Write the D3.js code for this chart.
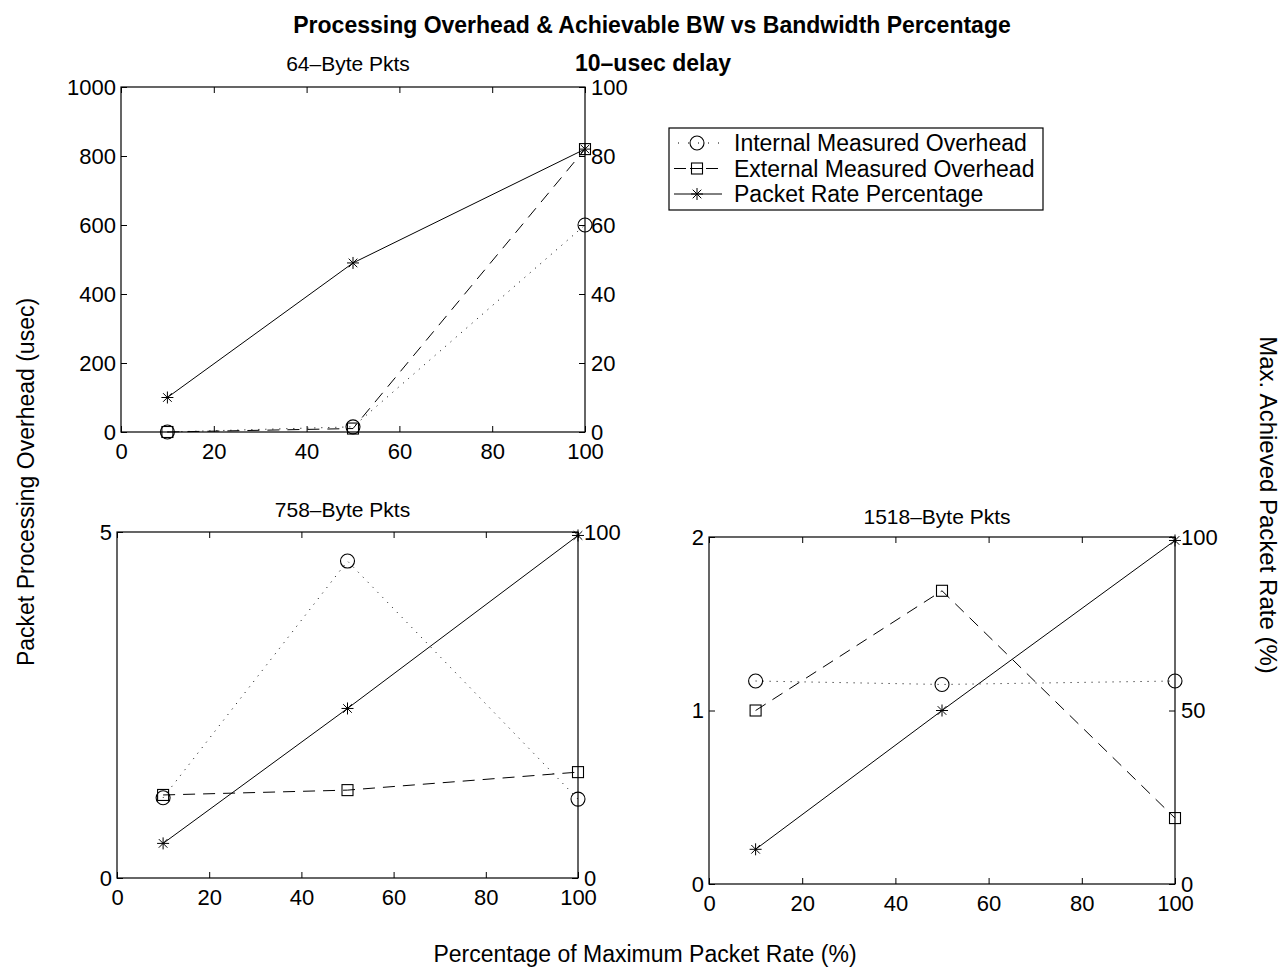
<!DOCTYPE html>
<html>
<head>
<meta charset="utf-8">
<script src="https://cdn.jsdelivr.net/npm/d3@7"></script>
<style>
  body { margin: 0; background: #fff; }
  svg { font-family: "Liberation Sans", Arial, Helvetica, sans-serif; }
  .axis text { font-size: 22px; fill: #000; }
  .axis line { stroke: #000; stroke-width: 1; }
  .axis path { display: none; }
</style>
</head>
<body>
<div id="chart"></div>
<script>
// x values shared by every panel (percentage of max packet rate)
const rates = [10, 50, 100];
const xTicks = [0, 20, 40, 60, 80, 100];

// 64-byte packets
const internal64 = [0, 15, 600];
const external64 = [0, 10, 820];
const packet64 = [10, 49, 82];
const leftTicks64 = [0, 200, 400, 600, 800, 1000];
const rightTicks64 = [0, 20, 40, 60, 80, 100];

// 758-byte packets
const internal758 = [1.16, 4.58, 1.14];
const external758 = [1.2, 1.27, 1.53];
const packet758 = [10, 49, 99];
const leftTicks758 = [0, 5];
const rightTicks758 = [0, 100];

// 1518-byte packets
const internal1518 = [1.17, 1.15, 1.17];
const external1518 = [1.0, 1.69, 0.38];
const packet1518 = [10, 50, 99];
const leftTicks1518 = [0, 1, 2];
const rightTicks1518 = [0, 50, 100];

const legendLabels = ["Internal Measured Overhead", "External Measured Overhead", "Packet Rate Percentage"];

const width = 1288, height = 971;
const fmt = d3.format("d");

const svg = d3.select("#chart")
    .append("svg")
    .attr("width", width)
    .attr("height", height);

// marker drawers
function drawCircle(g, x, y) {
    g.append("circle").attr("cx", x).attr("cy", y).attr("r", 7)
        .attr("fill", "none").attr("stroke", "#000").attr("stroke-width", 1.1);
}
function drawSquare(g, x, y) {
    g.append("rect").attr("x", x - 5.5).attr("y", y - 5.5).attr("width", 11).attr("height", 11)
        .attr("fill", "none").attr("stroke", "#000").attr("stroke-width", 1.1);
}
function drawStar(g, x, y) {
    const s = 6, d = 4.3;
    const p = `M${x-s},${y}L${x+s},${y}M${x},${y-s}L${x},${y+s}` +
              `M${x-d},${y-d}L${x+d},${y+d}M${x-d},${y+d}L${x+d},${y-d}`;
    g.append("path").attr("d", p).attr("stroke", "#000").attr("stroke-width", 1).attr("fill", "none");
}

const styles = [
    {dash: "1,6", marker: drawCircle},
    {dash: "12,8", marker: drawSquare},
    {dash: null, marker: drawStar}
];

function drawPanel(p) {
    const x = d3.scaleLinear().domain([0, 100]).range([p.left, p.right]);
    const yL = d3.scaleLinear().domain(p.leftDomain).range([p.bottom, p.top]);
    const yR = d3.scaleLinear().domain([0, 100]).range([p.bottom, p.top]);

    const g = svg.append("g");

    g.append("g").attr("class", "axis")
        .attr("transform", `translate(0,${p.bottom})`)
        .call(d3.axisBottom(x).tickValues(xTicks).tickSize(-6).tickPadding(11).tickFormat(fmt));
    g.append("g").attr("class", "axis")
        .attr("transform", `translate(0,${p.top})`)
        .call(d3.axisTop(x).tickValues(xTicks).tickSize(-6).tickFormat(""));
    g.append("g").attr("class", "axis")
        .attr("transform", `translate(${p.left},0)`)
        .call(d3.axisLeft(yL).tickValues(p.leftTicks).tickSize(-6).tickPadding(5).tickFormat(fmt));
    g.append("g").attr("class", "axis")
        .attr("transform", `translate(${p.right},0)`)
        .call(d3.axisRight(yR).tickValues(p.rightTicks).tickSize(-6).tickPadding(6).tickFormat(fmt));

    g.append("rect")
        .attr("x", p.left).attr("y", p.top)
        .attr("width", p.right - p.left).attr("height", p.bottom - p.top)
        .attr("fill", "none").attr("stroke", "#000").attr("stroke-width", 1.2);

    const series = [
        {vals: p.internal, y: yL},
        {vals: p.external, y: yL},
        {vals: p.packet, y: yR}
    ];
    series.forEach(function(s, i) {
        const pts = rates.map((r, j) => [x(r), s.y(s.vals[j])]);
        const line = d3.line();
        const path = g.append("path")
            .attr("d", line(pts))
            .attr("fill", "none")
            .attr("stroke", "#000")
            .attr("stroke-width", 1);
        if (styles[i].dash) path.attr("stroke-dasharray", styles[i].dash);
        pts.forEach(pt => styles[i].marker(g, pt[0], pt[1]));
    });

    svg.append("text")
        .attr("x", (p.left + p.right) / 2 - 5)
        .attr("y", p.top - p.titleGap)
        .attr("text-anchor", "middle")
        .attr("font-size", 21)
        .text(p.title);
}

drawPanel({
    title: "64–Byte Pkts", left: 121, right: 585, top: 87, bottom: 432, titleGap: 16,
    leftDomain: [0, 1000], leftTicks: leftTicks64, rightTicks: rightTicks64,
    internal: internal64, external: external64, packet: packet64
});
drawPanel({
    title: "758–Byte Pkts", left: 117, right: 578, top: 532, bottom: 878, titleGap: 15,
    leftDomain: [0, 5], leftTicks: leftTicks758, rightTicks: rightTicks758,
    internal: internal758, external: external758, packet: packet758
});
drawPanel({
    title: "1518–Byte Pkts", left: 709, right: 1175, top: 537, bottom: 884, titleGap: 13,
    leftDomain: [0, 2], leftTicks: leftTicks1518, rightTicks: rightTicks1518,
    internal: internal1518, external: external1518, packet: packet1518
});

// titles and axis labels
svg.append("text")
    .attr("x", 652).attr("y", 33)
    .attr("text-anchor", "middle")
    .attr("font-size", 23).attr("font-weight", "bold")
    .text("Processing Overhead & Achievable BW vs Bandwidth Percentage");

svg.append("text")
    .attr("x", 653).attr("y", 71)
    .attr("text-anchor", "middle")
    .attr("font-size", 23).attr("font-weight", "bold")
    .text("10–usec delay");

svg.append("text")
    .attr("transform", "translate(34,482) rotate(-90)")
    .attr("text-anchor", "middle")
    .attr("font-size", 23)
    .text("Packet Processing Overhead (usec)");

svg.append("text")
    .attr("transform", "translate(1260,505) rotate(90)")
    .attr("text-anchor", "middle")
    .attr("font-size", 24)
    .text("Max. Achieved Packet Rate (%)");

svg.append("text")
    .attr("x", 645).attr("y", 962)
    .attr("text-anchor", "middle")
    .attr("font-size", 23)
    .text("Percentage of Maximum Packet Rate (%)");

// legend
const legend = svg.append("g");
legend.append("rect")
    .attr("x", 669).attr("y", 128).attr("width", 374).attr("height", 82)
    .attr("fill", "#fff").attr("stroke", "#000").attr("stroke-width", 1.2);
legendLabels.forEach(function(label, i) {
    const ly = 143 + i * 25.5;
    const l = legend.append("line")
        .attr("x1", 674).attr("x2", 722).attr("y1", ly).attr("y2", ly)
        .attr("stroke", "#000").attr("stroke-width", 1);
    if (i === 0) l.attr("stroke-dasharray", "1,9").attr("stroke-dashoffset", -4);
    if (i === 1) l.attr("stroke-dasharray", "12,4");
    styles[i].marker(legend, 697, ly);
    legend.append("text")
        .attr("x", 734).attr("y", ly + 8)
        .attr("font-size", 23)
        .text(label);
});
</script>
</body>
</html>
